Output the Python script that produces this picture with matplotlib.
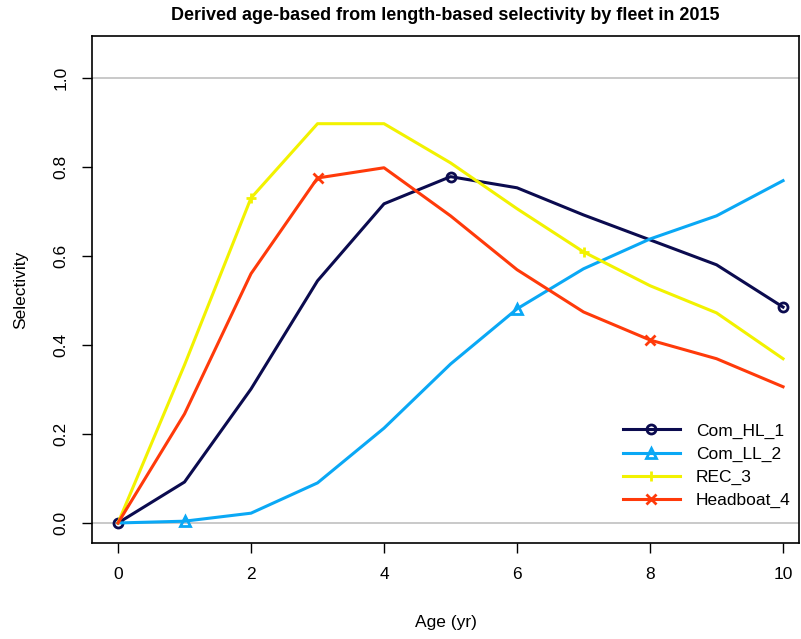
import matplotlib
matplotlib.use("Agg")
import matplotlib.pyplot as plt

plt.rcParams['font.family'] = ['Liberation Sans', 'DejaVu Sans']

ages = [0, 1, 2, 3, 4, 5, 6, 7, 8, 9, 10]
com_hl_1 = [0.0, 0.092, 0.301, 0.544, 0.717, 0.778, 0.753, 0.692, 0.636, 0.580, 0.485]
com_ll_2 = [0.0, 0.004, 0.022, 0.090, 0.213, 0.357, 0.481, 0.571, 0.638, 0.690, 0.769]
rec_3 = [0.0, 0.355, 0.730, 0.897, 0.897, 0.809, 0.706, 0.609, 0.533, 0.472, 0.369]
headboat_4 = [0.0, 0.245, 0.560, 0.775, 0.798, 0.690, 0.569, 0.474, 0.411, 0.369, 0.306]

series = [
    ("Com_HL_1", com_hl_1, "#0b0b4f", "o", [0, 5, 10]),
    ("Com_LL_2", com_ll_2, "#0aa8f5", "^", [1, 6]),
    ("REC_3", rec_3, "#f2f200", "+", [2, 7]),
    ("Headboat_4", headboat_4, "#ff3a0a", "x", [3, 8]),
]

fig = plt.figure(figsize=(8.01, 6.39), dpi=100)
ax = fig.add_axes([92/801, 1-543/639, (799-92)/801, (543-36)/639])

ax.axhline(0, color="#c0c0c0", lw=1.2, zorder=1)
ax.axhline(1, color="#c0c0c0", lw=1.2, zorder=1)

for name, vals, col, mk, mev in series:
    ax.plot(ages, vals, color=col, lw=2.2, marker=mk, markevery=mev,
            markersize=6.5, markerfacecolor="none", markeredgecolor=col,
            markeredgewidth=2, label=name, zorder=3)

ax.set_xlim(-0.391, 10.24)
ax.set_ylim(-0.045, 1.094)
ax.set_xticks([0, 2, 4, 6, 8, 10])
ax.set_yticks([0.0, 0.2, 0.4, 0.6, 0.8, 1.0])
ax.set_yticklabels(["0.0", "0.2", "0.4", "0.6", "0.8", "1.0"], rotation=90, va="center")
ax.tick_params(direction="out", length=7, width=1, labelsize=12.5, pad=10)
for s in ax.spines.values():
    s.set_linewidth(1.2)

ax.set_xlabel("Age (yr)", fontsize=12.5, labelpad=24)
ax.set_ylabel("Selectivity", fontsize=12.5, labelpad=18)
fig.text((92 + 799) / 2 / 801, 1-16/639,
         "Derived age-based from length-based selectivity by fleet in 2015",
         ha="center", va="center", fontsize=13, fontweight="bold")

leg = ax.legend(loc="lower right", bbox_to_anchor=(1.005, 0.045), frameon=False,
                fontsize=12.5, handlelength=3.3, labelspacing=0.45, borderaxespad=0.3,
                handletextpad=0.9)

fig.savefig("out.png", dpi=100)
